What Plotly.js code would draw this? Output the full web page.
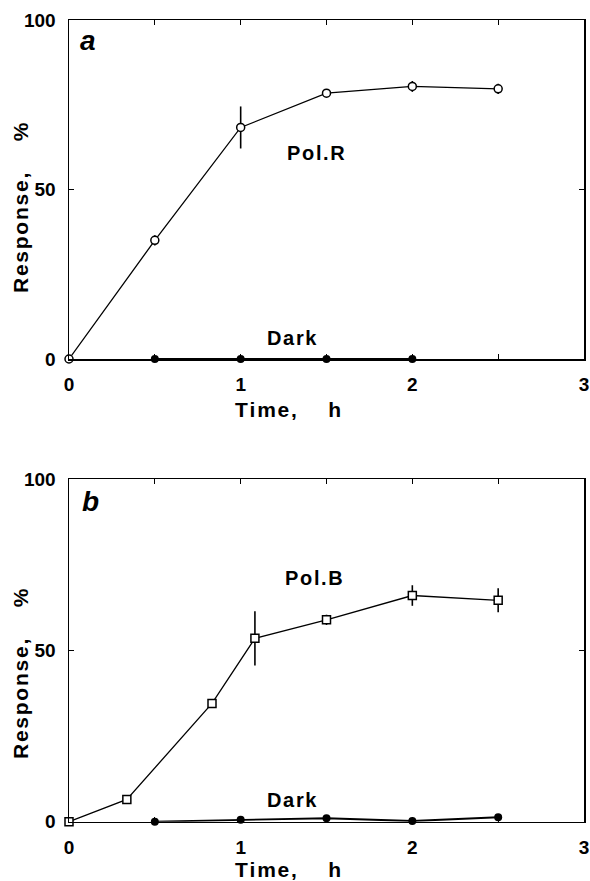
<!DOCTYPE html>
<html>
<head>
<meta charset="utf-8">
<script src="https://cdn.plot.ly/plotly-3.0.1.min.js"></script>
<style>html,body{margin:0;padding:0;background:#fff;}#chart{width:590px;height:881px;}</style>
</head>
<body>
<div id="chart"></div>
<script>
// Panel a: Pol.R
const timeA = [0, 0.5, 1.0, 1.5, 2.0, 2.5];
const polR = [0, 35, 68.3, 78.4, 80.4, 79.7];
const polRErr = [0, 1.5, 6.2, 0.6, 1.6, 1.5];
const darkATime = [0.5, 1.0, 1.5, 2.0];
const darkA = [0, 0, 0, 0];
// Panel b: Pol.B
const timeB = [0, 0.337, 0.833, 1.083, 1.5, 2.0, 2.5];
const polB = [0, 6.5, 34.5, 53.5, 58.9, 66.0, 64.6];
const polBErr = [0, 0, 1.2, 7.9, 1.5, 3.0, 3.5];
const darkBTime = [0.5, 1.0, 1.5, 2.0, 2.5];
const darkB = [0, 0.6, 1.0, 0.2, 1.3];
const xTickVals = [0, 1, 2, 3];
const yTickVals = [0, 50, 100];

const FONT = 'Liberation Sans, Arial, sans-serif';
const sp = s => s.split('').join('\u200A');

const lineStyle = {color: '#000', width: 1.3};
const errStyle = (arr) => ({type: 'data', array: arr, visible: true, width: 0, thickness: 1.6, color: '#000'});

const traces = [
  {x: timeA, y: polR, xaxis: 'x', yaxis: 'y', mode: 'lines+markers', name: 'Pol.R',
   line: lineStyle, error_y: errStyle(polRErr),
   marker: {symbol: 'circle', size: 8, color: '#fff', line: {width: 1.5, color: '#000'}}, cliponaxis: false},
  {x: darkATime, y: darkA, xaxis: 'x', yaxis: 'y', mode: 'lines+markers', name: 'Dark',
   line: {color: '#000', width: 2}, marker: {symbol: 'circle', size: 8, color: '#000'}, cliponaxis: false},
  {x: timeB, y: polB, xaxis: 'x2', yaxis: 'y2', mode: 'lines+markers', name: 'Pol.B',
   line: lineStyle, error_y: errStyle(polBErr),
   marker: {symbol: 'square', size: 8, color: '#fff', line: {width: 1.5, color: '#000'}}, cliponaxis: false},
  {x: darkBTime, y: darkB, xaxis: 'x2', yaxis: 'y2', mode: 'lines+markers', name: 'Dark',
   line: {color: '#000', width: 1.8}, marker: {symbol: 'circle', size: 8, color: '#000'}, cliponaxis: false}
];

const xAxis = (domain, anchor) => ({
  domain: domain, anchor: anchor, range: [0, 3], tickvals: xTickVals, ticktext: xTickVals.map(String),
  ticks: 'inside', ticklen: 5, tickwidth: 1.3, tickcolor: '#000',
  minor: {dtick: 0.5, ticks: 'inside', ticklen: 5, tickwidth: 1.3, tickcolor: '#000', showgrid: false},
  showline: true, linecolor: '#000', linewidth: 1.5, mirror: 'allticks', showgrid: false, zeroline: false,
  tickfont: {family: FONT, size: 19, color: '#000', weight: 'bold'}, ticklabelstandoff: 8
});
const yAxis = (domain, anchor) => ({
  domain: domain, anchor: anchor, range: [0, 100], tickvals: yTickVals, ticktext: yTickVals.map(String),
  ticks: 'inside', ticklen: 5, tickwidth: 1.3, tickcolor: '#000',
  showline: true, linecolor: '#000', linewidth: 1.5, mirror: 'allticks', showgrid: false, zeroline: false,
  tickfont: {family: FONT, size: 19, color: '#000', weight: 'bold'}, ticklabelstandoff: 8
});

const ann = (text, x, y, xref, yref, size, extra) => Object.assign({
  text: text, x: x, y: y, xref: xref, yref: yref, showarrow: false,
  font: {family: FONT, size: size, color: '#000', weight: 'bold'}, xanchor: 'center', yanchor: 'middle'
}, extra || {});

const annotations = [
  ann('<i>a</i>', 0.149, 1 - 40 / 881, 'paper', 'paper', 28),
  ann('<i>b</i>', 0.154, 1 - 501 / 881, 'paper', 'paper', 28),
  ann(sp('Pol.R'), 1.437, 60.9, 'x', 'y', 20),
  ann(sp('Dark'), 1.30, 6.2, 'x', 'y', 20),
  ann(sp('Pol.B'), 1.43, 71.1, 'x2', 'y2', 20),
  ann(sp('Dark'), 1.30, 6.3, 'x2', 'y2', 20),
  ann(sp('Time,') + '\u2003\u2002' + 'h', 288 / 590, 1 - 409 / 881, 'paper', 'paper', 21),
  ann(sp('Time,') + '\u2003\u2002' + 'h', 288 / 590, 1 - 869 / 881, 'paper', 'paper', 21),
  ann(sp('Response,') + '\u2003\u2002' + '%', 20 / 590, 1 - 208 / 881, 'paper', 'paper', 21, {textangle: -90}),
  ann(sp('Response,') + '\u2003\u2002' + '%', 20 / 590, 1 - 674 / 881, 'paper', 'paper', 21, {textangle: -90})
];

const layout = {
  width: 590, height: 881, margin: {l: 0, r: 0, t: 0, b: 0},
  paper_bgcolor: '#fff', plot_bgcolor: '#fff', showlegend: false,
  xaxis: xAxis([69 / 590, 584 / 590], 'y'),
  yaxis: yAxis([(881 - 359) / 881, (881 - 20) / 881], 'x'),
  xaxis2: xAxis([69 / 590, 584 / 590], 'y2'),
  yaxis2: yAxis([(881 - 821.7) / 881, (881 - 479) / 881], 'x2'),
  annotations: annotations
};

Plotly.newPlot('chart', traces, layout, {staticPlot: true, displayModeBar: false});
</script>
</body>
</html>
